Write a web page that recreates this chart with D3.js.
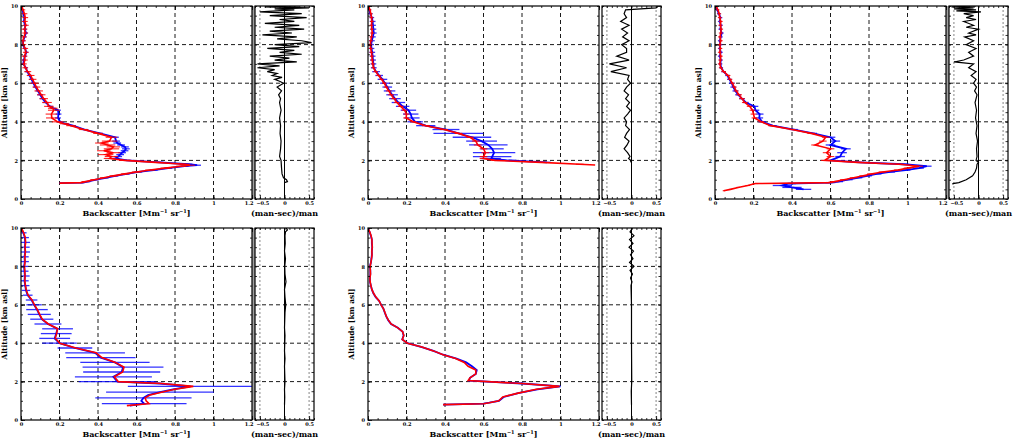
<!DOCTYPE html>
<html>
<head>
<meta charset="utf-8">
<script src="https://cdn.jsdelivr.net/npm/d3@7"></script>
<style>
  body { margin: 0; background: #fff; }
  svg { display: block; }
  text { font-family: "DejaVu Serif", "Liberation Serif", serif; font-weight: bold; fill: #000; }
  .tick text { font-size: 5px; }
  .tick line { stroke: #000; stroke-width: 0.8; }
</style>
</head>
<body>
<svg width="1015" height="444"></svg>
<script>
// ---- panel 1 ----
const p1Alt = [10, 9.8, 9.6, 9.4, 9.2, 9.0, 8.8, 8.6, 8.4, 8.2,
  8.0, 7.8, 7.6, 7.4, 7.2, 7.0, 6.8, 6.6, 6.4, 6.2,
  6.0, 5.8, 5.6, 5.4, 5.2, 5.0, 4.8, 4.7, 4.6, 4.4,
  4.2, 4.0, 3.9, 3.8, 3.6, 3.4, 3.2, 3.0, 2.9, 2.8,
  2.7, 2.6, 2.5, 2.4, 2.3, 2.2, 2.1, 2.0, 1.9, 1.8,
  1.75, 1.7, 1.6, 1.5, 1.4, 1.3, 1.2, 1.1, 1.0, 0.9,
  0.85, 0.82];
const p1Blue = [0.003, 0.008, 0.012, 0.018, 0.015, 0.022, 0.02, 0.026, 0.018, 0.012,
  0.009, 0.02, 0.028, 0.02, 0.015, 0.012, 0.025, 0.032, 0.045, 0.055,
  0.064, 0.075, 0.088, 0.1, 0.112, 0.128, 0.15, 0.168, 0.192, 0.195,
  0.192, 0.203, 0.23, 0.27, 0.33, 0.41, 0.488, 0.494, 0.5, 0.52,
  0.54, 0.545, 0.538, 0.525, 0.515, 0.505, 0.49, 0.55, 0.72, 0.87,
  0.915, 0.85, 0.765, 0.69, 0.61, 0.55, 0.49, 0.44, 0.39, 0.345,
  0.32, 0.2];
const p1Red = [0.005, 0.01, 0.018, 0.022, 0.02, 0.025, 0.018, 0.022, 0.015, 0.01,
  0.012, 0.022, 0.025, 0.018, 0.02, 0.015, 0.022, 0.035, 0.05, 0.06,
  0.07, 0.08, 0.092, 0.105, 0.118, 0.135, 0.145, 0.165, 0.17, 0.158,
  0.16, 0.19, 0.225, 0.26, 0.325, 0.4, 0.47, 0.46, 0.42, 0.45,
  0.48, 0.47, 0.43, 0.48, 0.44, 0.47, 0.46, 0.54, 0.7, 0.85,
  0.878, 0.83, 0.75, 0.67, 0.6, 0.54, 0.48, 0.43, 0.38, 0.335,
  0.31, 0.2];
const p1ErrB = [0.005, 0.006, 0.008, 0.008, 0.008, 0.01, 0.01, 0.01, 0.01, 0.01,
  0.01, 0.01, 0.01, 0.01, 0.01, 0.01, 0.01, 0.012, 0.012, 0.012,
  0.012, 0.012, 0.012, 0.015, 0.015, 0.015, 0.015, 0.015, 0.015, 0.015,
  0.015, 0.015, 0.015, 0.015, 0.015, 0.015, 0.02, 0.02, 0.02, 0.02,
  0.02, 0.02, 0.02, 0.02, 0.02, 0.02, 0.02, 0.02, 0.02, 0.02,
  0.02, 0.02, 0.02, 0.02, 0.02, 0.015, 0.015, 0.015, 0.015, 0.015,
  0.01, null];
const p1ErrR = [0.008, 0.012, 0.015, 0.015, 0.015, 0.015, 0.015, 0.015, 0.015, 0.015,
  0.015, 0.015, 0.015, 0.015, 0.015, 0.015, 0.015, 0.018, 0.02, 0.02,
  0.02, 0.02, 0.022, 0.022, 0.022, 0.025, 0.025, 0.025, 0.03, 0.03,
  0.03, 0.03, 0.025, 0.025, 0.025, 0.025, 0.03, 0.04, 0.035, 0.04,
  0.035, 0.04, 0.035, 0.035, 0.04, 0.035, 0.03, 0.03, 0.025, 0.025,
  0.025, 0.025, 0.025, 0.025, 0.025, 0.02, 0.02, 0.02, 0.02, 0.02,
  0.015, null];
const p1DiffAlt = [10.0, 9.95, 9.9, 9.85, 9.8, 9.7, 9.6, 9.5, 9.4, 9.3,
  9.2, 9.1, 9.0, 8.9, 8.8, 8.7, 8.6, 8.5, 8.4, 8.3,
  8.2, 8.1, 8.0, 7.9, 7.8, 7.7, 7.6, 7.5, 7.4, 7.3,
  7.2, 7.1, 7.0, 6.9, 6.8, 6.7, 6.6, 6.5, 6.4, 6.3,
  6.2, 6.1, 6.0, 5.8, 5.6, 5.4, 5.2, 5.0, 4.6, 4.2,
  3.8, 3.4, 3.0, 2.6, 2.2, 2.0, 1.6, 1.3, 1.1, 1.0,
  0.9, 0.85];
const p1Diff = [0.3, -0.4, 0.5, -0.2, 0.2, -0.5, 0.35, -0.3, 0.45, -0.1,
  0.2, -0.4, 0.3, -0.2, 0.4, -0.3, 0.15, -0.45, 0.25, -0.15,
  0.35, 0.55, -0.2, 0.3, -0.35, 0.2, -0.1, 0.35, -0.3, 0.1,
  -0.2, 0.25, -0.55, -0.1, -0.55, -0.2, -0.35, -0.15, -0.25, -0.05,
  -0.2, -0.1, -0.02, -0.15, -0.06, -0.12, -0.08, -0.1, -0.07, -0.1,
  -0.08, -0.09, -0.07, -0.08, -0.1, -0.07, -0.06, -0.05, -0.02, 0.04,
  0.06, 0.0];

// ---- panel 2 ----
const p2Alt = [10, 9.8, 9.6, 9.4, 9.2, 9.0, 8.8, 8.6, 8.4, 8.2,
  8.0, 7.8, 7.6, 7.4, 7.2, 7.0, 6.8, 6.6, 6.4, 6.2,
  6.0, 5.8, 5.6, 5.4, 5.2, 5.0, 4.8, 4.6, 4.4, 4.2,
  4.0, 3.8, 3.6, 3.4, 3.2, 3.0, 2.8, 2.6, 2.4, 2.2,
  2.1, 2.0, 1.9, 1.8, 1.76];
const p2Blue = [0.003, 0.006, 0.012, 0.02, 0.024, 0.026, 0.028, 0.03, 0.025, 0.02,
  0.016, 0.018, 0.022, 0.024, 0.026, 0.028, 0.03, 0.042, 0.058, 0.075,
  0.088, 0.1, 0.112, 0.125, 0.14, 0.158, 0.18, 0.21, 0.222, 0.228,
  0.245, 0.3, 0.405, 0.47, 0.54, 0.59, 0.625, 0.645, 0.655, 0.645,
  0.64, 0.72, 0.93, null, null];
const p2Red = [0.004, 0.01, 0.015, 0.018, 0.02, 0.018, 0.02, 0.022, 0.018, 0.015,
  0.012, 0.014, 0.018, 0.02, 0.022, 0.025, 0.028, 0.04, 0.055, 0.07,
  0.085, 0.095, 0.108, 0.12, 0.135, 0.15, 0.17, 0.19, 0.2, 0.198,
  0.235, 0.3, 0.395, 0.47, 0.53, 0.56, 0.57, 0.6, 0.61, 0.6,
  0.6, 0.66, 0.9, 1.1, 1.18];
const p2ErrB = [0.01, 0.01, 0.012, 0.012, 0.015, 0.015, 0.015, 0.015, 0.015, 0.015,
  0.015, 0.015, 0.015, 0.015, 0.015, 0.015, 0.015, 0.02, 0.02, 0.025,
  0.025, 0.025, 0.03, 0.03, 0.03, 0.035, 0.035, 0.04, 0.04, 0.04,
  0.04, 0.05, 0.07, 0.13, 0.1, 0.08, 0.1, 0.06, 0.11, 0.1,
  0.05, 0.05, 0.02, null, null];
const p2ErrR = [0.005, 0.008, 0.008, 0.01, 0.01, 0.01, 0.01, 0.01, 0.01, 0.01,
  0.01, 0.01, 0.01, 0.01, 0.01, 0.01, 0.01, 0.012, 0.012, 0.012,
  0.012, 0.012, 0.015, 0.015, 0.015, 0.015, 0.015, 0.015, 0.015, 0.015,
  0.015, 0.02, 0.02, 0.02, 0.02, 0.02, 0.02, 0.02, 0.02, 0.02,
  0.02, 0.02, 0.02, 0.02, null];
const p2DiffAlt = [10, 9.9, 9.8, 9.6, 9.4, 9.2, 9.0, 8.8, 8.6, 8.4,
  8.2, 8.0, 7.8, 7.6, 7.4, 7.2, 7.0, 6.8, 6.6, 6.4,
  6.2, 6.0, 5.8, 5.6, 5.4, 5.2, 5.0, 4.8, 4.6, 4.4,
  4.2, 4.0, 3.8, 3.6, 3.4, 3.2, 3.0, 2.8, 2.6, 2.4,
  2.2, 2.1, 2.0, 1.9];
const p2Diff = [0.55, 0.5, -0.12, -0.15, -0.1, -0.22, -0.05, -0.2, -0.08, -0.18,
  -0.05, -0.2, -0.1, -0.1, -0.3, -0.05, -0.45, -0.1, -0.42, -0.05,
  -0.08, -0.02, -0.1, -0.15, -0.06, -0.12, -0.04, -0.1, -0.02, -0.08,
  -0.15, -0.1, -0.12, -0.04, -0.1, -0.14, -0.05, -0.09, -0.15, -0.08,
  -0.03, -0.06, -0.02, -0.01];

// ---- panel 3 ----
const p3Alt = [10, 9.8, 9.6, 9.4, 9.2, 9.0, 8.8, 8.6, 8.4, 8.2,
  8.0, 7.8, 7.6, 7.4, 7.2, 7.0, 6.8, 6.6, 6.4, 6.2,
  6.0, 5.8, 5.6, 5.4, 5.2, 5.0, 4.8, 4.6, 4.4, 4.2,
  4.0, 3.8, 3.6, 3.4, 3.2, 3.0, 2.8, 2.6, 2.4, 2.2,
  2.0, 1.9, 1.8, 1.7, 1.6, 1.5, 1.4, 1.3, 1.2, 1.1,
  1.0, 0.9, 0.85, 0.8, 0.7, 0.6, 0.5, 0.43];
const p3Blue = [0.005, 0.012, 0.02, 0.028, 0.025, 0.03, 0.028, 0.035, 0.03, 0.025,
  0.028, 0.025, 0.03, 0.025, 0.03, 0.028, 0.032, 0.045, 0.065, 0.075,
  0.087, 0.095, 0.106, 0.12, 0.14, 0.16, 0.205, 0.21, 0.232, 0.23,
  0.245, 0.3, 0.41, 0.51, 0.6, 0.625, 0.6, 0.68, 0.66, 0.65,
  0.6, 0.75, 0.98, 1.1, 1.06, 0.99, 0.91, 0.84, 0.79, 0.74,
  0.69, 0.64, 0.6, 0.38, 0.35, 0.4, 0.46, null];
const p3Red = [0.006, 0.015, 0.022, 0.025, 0.03, 0.028, 0.032, 0.03, 0.026, 0.03,
  0.025, 0.028, 0.025, 0.03, 0.028, 0.025, 0.03, 0.045, 0.068, 0.078,
  0.09, 0.1, 0.11, 0.125, 0.14, 0.155, 0.18, 0.195, 0.2, 0.205,
  0.24, 0.29, 0.4, 0.5, 0.575, 0.56, 0.52, 0.6, 0.58, 0.6,
  0.57, 0.74, 0.96, 1.06, 1.0, 0.95, 0.87, 0.81, 0.77, 0.72,
  0.67, 0.62, 0.59, 0.21, 0.17, 0.12, 0.08, 0.045];
const p3ErrB = [0.005, 0.008, 0.01, 0.01, 0.01, 0.01, 0.01, 0.01, 0.01, 0.01,
  0.01, 0.01, 0.01, 0.01, 0.01, 0.01, 0.01, 0.012, 0.012, 0.012,
  0.015, 0.015, 0.015, 0.015, 0.015, 0.015, 0.02, 0.02, 0.02, 0.02,
  0.02, 0.02, 0.02, 0.02, 0.025, 0.025, 0.025, 0.025, 0.025, 0.025,
  0.025, 0.025, 0.025, 0.025, 0.025, 0.025, 0.025, 0.025, 0.025, 0.025,
  0.025, 0.025, 0.025, 0.04, 0.05, 0.05, 0.04, null];
const p3ErrR = [0.005, 0.008, 0.01, 0.01, 0.01, 0.01, 0.01, 0.01, 0.01, 0.01,
  0.01, 0.01, 0.01, 0.01, 0.01, 0.01, 0.01, 0.012, 0.012, 0.012,
  0.012, 0.012, 0.012, 0.015, 0.015, 0.015, 0.015, 0.015, 0.015, 0.015,
  0.015, 0.015, 0.015, 0.02, 0.02, 0.02, 0.02, 0.02, 0.02, 0.02,
  0.02, 0.02, 0.02, 0.02, 0.02, 0.02, 0.02, 0.02, 0.02, 0.02,
  0.02, 0.02, 0.02, 0.015, 0.012, 0.01, 0.008, 0.005];
const p3DiffAlt = [10.0, 9.95, 9.9, 9.85, 9.8, 9.75, 9.7, 9.6, 9.5, 9.4,
  9.3, 9.2, 9.0, 8.9, 8.8, 8.6, 8.5, 8.4, 8.2, 8.0,
  7.8, 7.6, 7.4, 7.2, 7.1, 7.05, 7.0, 6.8, 6.6, 6.4,
  6.2, 6.0, 5.8, 5.6, 5.4, 5.0, 4.6, 4.2, 3.8, 3.4,
  3.0, 2.6, 2.2, 2.0, 1.9, 1.8, 1.6, 1.4, 1.2, 1.0,
  0.85, 0.8, 0.75];
const p3Diff = [-0.05, -0.55, -0.1, -0.5, -0.05, -0.45, 0.05, -0.3, -0.1, -0.25,
  -0.05, -0.3, -0.1, -0.25, 0.0, -0.2, -0.05, -0.28, -0.1, -0.25,
  -0.05, -0.2, -0.1, -0.3, -0.5, -0.3, -0.1, -0.2, -0.05, -0.15,
  -0.05, -0.1, -0.04, -0.08, -0.03, -0.07, -0.04, -0.06, -0.03, -0.05,
  -0.02, -0.04, -0.03, -0.05, 0.0, -0.03, -0.04, -0.07, -0.12, -0.25,
  -0.4, -0.52, -0.52];

// ---- panel 4 ----
const p4Alt = [10, 9.75, 9.5, 9.25, 9.0, 8.75, 8.5, 8.25, 8.0, 7.75,
  7.5, 7.25, 7.0, 6.75, 6.5, 6.25, 6.0, 5.75, 5.5, 5.25,
  5.0, 4.75, 4.5, 4.25, 4.0, 3.75, 3.5, 3.25, 3.0, 2.75,
  2.5, 2.25, 2.0, 1.9, 1.75, 1.6, 1.45, 1.3, 1.15, 1.0,
  0.85, 0.75];
const p4Blue = [0.0, 0.012, 0.02, 0.022, 0.02, 0.022, 0.018, 0.02, 0.016, 0.018,
  0.02, 0.018, 0.022, 0.026, 0.035, 0.055, 0.068, 0.083, 0.095, 0.108,
  0.14, 0.19, 0.183, 0.175, 0.2, 0.28, 0.385, 0.415, 0.488, 0.53,
  0.523, 0.48, 0.5, 0.72, 0.88, 0.79, 0.722, 0.66, 0.636, 0.625,
  0.64, 0.566];
const p4Red = [0.002, 0.014, 0.022, 0.024, 0.021, 0.023, 0.02, 0.021, 0.018, 0.02,
  0.021, 0.02, 0.023, 0.028, 0.037, 0.057, 0.07, 0.085, 0.097, 0.11,
  0.142, 0.19, 0.185, 0.178, 0.202, 0.285, 0.39, 0.42, 0.49, 0.535,
  0.528, 0.485, 0.505, 0.73, 0.895, 0.8, 0.73, 0.67, 0.645, 0.65,
  0.665, 0.55];
const p4ErrB = [0.012, 0.017, 0.021, 0.025, 0.025, 0.025, 0.022, 0.021, 0.022, 0.021,
  0.025, 0.022, 0.022, 0.022, 0.025, 0.03, 0.04, 0.056, 0.06, 0.06,
  0.07, 0.08, 0.08, 0.08, 0.09, 0.09, 0.155, 0.18, 0.18, 0.21,
  0.2, 0.2, 0.2, null, 0.325, null, 0.28, null, 0.25, null,
  0.22, null];
const p4DiffAlt = [10, 9.9, 9.8, 9.6, 9.2, 8.8, 8.4, 8.0, 7.6, 7.2,
  6.8, 6.4, 6.0, 5.6, 5.2, 4.8, 4.4, 4.0, 3.6, 3.2,
  2.8, 2.4, 2.0, 1.6, 1.2, 0.8];
const p4Diff = [0.03, 0.06, 0.02, 0.01, 0.015, 0.0, 0.02, 0.005, 0.01, 0.03,
  0.0, 0.01, 0.025, 0.01, 0.005, 0.0, 0.01, 0.005, 0.0, 0.01,
  0.0, 0.005, 0.01, 0.0, 0.005, 0.0];

// ---- panel 5 ----
const p5Alt = [10, 9.8, 9.6, 9.4, 9.2, 9.0, 8.8, 8.6, 8.4, 8.2,
  8.0, 7.8, 7.6, 7.4, 7.2, 7.0, 6.8, 6.6, 6.4, 6.2,
  6.0, 5.8, 5.6, 5.4, 5.2, 5.0, 4.8, 4.6, 4.4, 4.2,
  4.0, 3.8, 3.6, 3.4, 3.2, 3.0, 2.8, 2.6, 2.4, 2.2,
  2.05, 1.9, 1.75, 1.6, 1.4, 1.2, 1.0, 0.9, 0.85, 0.8];
const p5Blue = [0.0, 0.008, 0.015, 0.02, 0.02, 0.022, 0.02, 0.02, 0.018, 0.015,
  0.01, 0.012, 0.012, 0.01, 0.01, 0.015, 0.02, 0.028, 0.04, 0.058,
  0.068, 0.08, 0.087, 0.095, 0.105, 0.12, 0.155, 0.18, 0.185, 0.178,
  0.205, 0.28, 0.34, 0.39, 0.46, 0.51, 0.54, 0.565, 0.56, 0.53,
  0.525, 0.8, 1.0, 0.88, 0.78, 0.705, 0.68, 0.63, 0.6, 0.39];
const p5Red = [0.0, 0.009, 0.016, 0.02, 0.021, 0.022, 0.02, 0.021, 0.018, 0.015,
  0.011, 0.012, 0.013, 0.01, 0.011, 0.015, 0.02, 0.029, 0.041, 0.058,
  0.068, 0.08, 0.088, 0.095, 0.106, 0.12, 0.155, 0.18, 0.186, 0.178,
  0.205, 0.28, 0.34, 0.39, 0.455, 0.5, 0.52, 0.56, 0.56, 0.53,
  0.52, 0.8, 0.995, 0.875, 0.78, 0.7, 0.68, 0.63, 0.6, 0.39];
const p5DiffAlt = [10, 9.8, 9.6, 9.4, 9.2, 9.0, 8.8, 8.6, 8.4, 8.2,
  8.0, 7.8, 7.6, 7.4, 7.2, 7.0, 6.0, 4.0, 2.0, 1.5, 0.8];
const p5Diff = [0.02, -0.03, 0.05, -0.04, 0.03, -0.05, 0.04, -0.02, 0.03, -0.04,
  0.05, -0.03, 0.02, -0.02, 0.01, -0.01, 0.0, 0.0, 0.005, -0.005, 0.0];

// ---- axes ----
const xTicks = [0, 0.2, 0.4, 0.6, 0.8, 1, 1.2];
const yTicks = [0, 2, 4, 6, 8, 10];
const sideTicks = [-0.5, 0, 0.5];
const xLabel = "Backscatter [Mm";
const yLabel = "Altitude [km asl]";
const sideLabel = "(man-sec)/man";

const svg = d3.select("svg");

const panels = [
  { x0: 21, top: 6, bottom: 199, alt: p1Alt, blue: p1Blue, red: p1Red, errB: p1ErrB, errR: p1ErrR, dAlt: p1DiffAlt, diff: p1Diff, band: true },
  { x0: 368, top: 6, bottom: 199, alt: p2Alt, blue: p2Blue, red: p2Red, errB: p2ErrB, errR: p2ErrR, dAlt: p2DiffAlt, diff: p2Diff, band: false },
  { x0: 715, top: 6, bottom: 199, alt: p3Alt, blue: p3Blue, red: p3Red, errB: p3ErrB, errR: p3ErrR, dAlt: p3DiffAlt, diff: p3Diff, band: true },
  { x0: 21, top: 228, bottom: 420, alt: p4Alt, blue: p4Blue, red: p4Red, errB: p4ErrB, errR: null, dAlt: p4DiffAlt, diff: p4Diff, band: true },
  { x0: 368, top: 228, bottom: 420, alt: p5Alt, blue: p5Blue, red: p5Red, errB: null, errR: null, dAlt: p5DiffAlt, diff: p5Diff, band: false },
];

panels.forEach((p, i) => drawPanel(p, i));

function drawPanel(p, i) {
  const x = d3.scaleLinear().domain([0, 1.2]).range([p.x0, p.x0 + 231]);
  const xs = d3.scaleLinear().domain([-0.6, 0.6]).range([p.x0 + 234, p.x0 + 293]);
  const y = d3.scaleLinear().domain([0, 10]).range([p.bottom, p.top]);
  const g = svg.append("g");
  const h = p.bottom - p.top;

  // clip paths
  const defs = svg.append("defs");
  defs.append("clipPath").attr("id", "cm" + i).append("rect")
    .attr("x", x(0)).attr("y", p.top).attr("width", x(1.2) - x(0)).attr("height", h);
  defs.append("clipPath").attr("id", "cs" + i).append("rect")
    .attr("x", xs(-0.6)).attr("y", p.top).attr("width", xs(0.6) - xs(-0.6)).attr("height", h);

  if (p.band) {
    g.append("rect").attr("x", x(1.2)).attr("y", p.top)
      .attr("width", xs(-0.6) - x(1.2)).attr("height", h).attr("fill", "#a0a0a0");
  }

  // grid
  const grid = g.append("g").attr("stroke", "#000").attr("stroke-width", 0.9).attr("stroke-dasharray", "4,3");
  grid.selectAll(".gx").data([0.2, 0.4, 0.6, 0.8, 1]).join("line")
    .attr("x1", d => x(d)).attr("x2", d => x(d)).attr("y1", p.top).attr("y2", p.bottom);
  grid.selectAll(".gy").data([2, 4, 6, 8]).join("line")
    .attr("x1", x(0)).attr("x2", x(1.2)).attr("y1", d => y(d)).attr("y2", d => y(d));
  grid.selectAll(".gsy").data([2, 4, 6, 8]).join("line")
    .attr("x1", xs(-0.6)).attr("x2", xs(0.6)).attr("y1", d => y(d)).attr("y2", d => y(d));
  g.append("g").attr("stroke", "#777").attr("stroke-width", 0.9).attr("stroke-dasharray", "2,2")
    .selectAll("line").data([-0.5, 0.5]).join("line")
    .attr("x1", d => xs(d)).attr("x2", d => xs(d)).attr("y1", p.top).attr("y2", p.bottom);
  g.append("line").attr("x1", xs(0)).attr("x2", xs(0)).attr("y1", p.top).attr("y2", p.bottom)
    .attr("stroke", "#000").attr("stroke-width", 1);

  // profiles
  const rows = (vals) => p.alt.map((a, k) => [a, vals[k]]);
  const line = d3.line().defined(d => d[1] != null).x(d => x(d[1])).y(d => y(d[0]));
  const data = g.append("g").attr("clip-path", `url(#cm${i})`);

  const errBars = (vals, errs, color, width, op) => {
    if (!errs) return;
    const bars = p.alt.map((a, k) => [a, vals[k], errs[k]]).filter(d => d[1] != null && d[2] != null);
    data.append("g").selectAll("line").data(bars).join("line")
      .attr("x1", d => x(d[1] - d[2])).attr("x2", d => x(d[1] + d[2]))
      .attr("y1", d => y(d[0])).attr("y2", d => y(d[0]))
      .attr("stroke", color).attr("stroke-width", width).attr("opacity", op);
  };
  errBars(p.blue, p.errB, "#0000ff", 1.3, 0.8);
  data.append("path").datum(rows(p.blue)).attr("d", line)
    .attr("fill", "none").attr("stroke", "#0000ff").attr("stroke-width", 1.8);
  errBars(p.red, p.errR, "#ff0000", 1.1, 0.85);
  data.append("path").datum(rows(p.red)).attr("d", line)
    .attr("fill", "none").attr("stroke", "#ff0000").attr("stroke-width", 1.6);

  // relative difference
  g.append("g").attr("clip-path", `url(#cs${i})`).append("path")
    .datum(p.dAlt.map((a, k) => [a, p.diff[k]]))
    .attr("d", d3.line().x(d => xs(d[1])).y(d => y(d[0])))
    .attr("fill", "none").attr("stroke", "#000").attr("stroke-width", 1.2);

  // axes
  const fmt = d3.format("~g");
  const minorX = d3.range(0, 1.2001, 0.05);
  const minorY = d3.range(0, 10.001, 0.5);
  const minorS = d3.range(-0.6, 0.6001, 0.1);

  const ax = (axis, tr) => {
    const a = g.append("g").attr("transform", tr).call(axis);
    a.select(".domain").remove();
    return a;
  };
  const bx = ax(d3.axisBottom(x).tickValues(xTicks).tickFormat(fmt).tickSize(-4).tickPadding(2), `translate(0,${p.bottom})`);
  // last label sits against the side panel, as in the original
  bx.selectAll(".tick text").filter(d => d === 1.2).attr("text-anchor", "end").attr("dx", 1);
  ax(d3.axisBottom(x).tickValues(minorX).tickFormat("").tickSize(-2), `translate(0,${p.bottom})`);
  ax(d3.axisTop(x).tickValues(xTicks).tickFormat("").tickSize(-4), `translate(0,${p.top})`);
  ax(d3.axisTop(x).tickValues(minorX).tickFormat("").tickSize(-2), `translate(0,${p.top})`);
  ax(d3.axisLeft(y).tickValues(yTicks).tickFormat(fmt).tickSize(-4).tickPadding(3), `translate(${x(0)},0)`);
  ax(d3.axisLeft(y).tickValues(minorY).tickFormat("").tickSize(-2), `translate(${x(0)},0)`);
  ax(d3.axisRight(y).tickValues(minorY).tickFormat("").tickSize(-2), `translate(${x(1.2)},0)`);

  const bs = ax(d3.axisBottom(xs).tickValues(sideTicks).tickFormat(fmt).tickSize(-4).tickPadding(2), `translate(0,${p.bottom})`);
  bs.selectAll(".tick text").filter(d => d === -0.5).attr("text-anchor", "start").attr("dx", -4);
  ax(d3.axisBottom(xs).tickValues(minorS).tickFormat("").tickSize(-2), `translate(0,${p.bottom})`);
  ax(d3.axisTop(xs).tickValues(minorS).tickFormat("").tickSize(-2), `translate(0,${p.top})`);
  ax(d3.axisLeft(y).tickValues(minorY).tickFormat("").tickSize(-2), `translate(${xs(-0.6)},0)`);
  ax(d3.axisRight(y).tickValues(minorY).tickFormat("").tickSize(-2.5), `translate(${xs(0.6)},0)`);

  // frames
  g.append("rect").attr("x", x(0)).attr("y", p.top).attr("width", x(1.2) - x(0)).attr("height", h)
    .attr("fill", "none").attr("stroke", "#000").attr("stroke-width", 1.2);
  g.append("rect").attr("x", xs(-0.6)).attr("y", p.top).attr("width", xs(0.6) - xs(-0.6)).attr("height", h)
    .attr("fill", "none").attr("stroke", "#000").attr("stroke-width", 1.2);

  // labels
  const xl = g.append("text").attr("x", x(0.6)).attr("y", p.bottom + 17)
    .attr("text-anchor", "middle").attr("font-size", 8);
  xl.append("tspan").text(xLabel);
  xl.append("tspan").attr("baseline-shift", "super").attr("font-size", 5).text("−1");
  xl.append("tspan").text("  sr");
  xl.append("tspan").attr("baseline-shift", "super").attr("font-size", 5).text("−1");
  xl.append("tspan").text("]");

  g.append("text").attr("x", xs(0)).attr("y", p.bottom + 17)
    .attr("text-anchor", "middle").attr("font-size", 8).text(sideLabel);

  g.append("text").attr("transform", `translate(${p.x0 - 14},${(p.top + p.bottom) / 2}) rotate(-90)`)
    .attr("text-anchor", "middle").attr("font-size", 7.5).text(yLabel);
}
</script>
</body>
</html>
